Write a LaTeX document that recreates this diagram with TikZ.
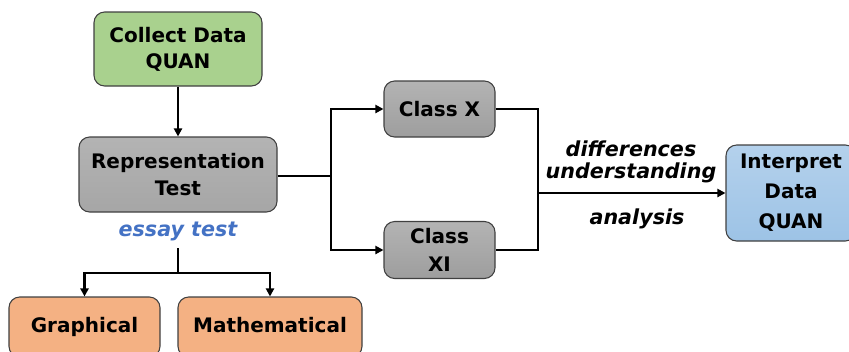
\documentclass[tikz,border=0pt]{standalone}
\usepackage{fontspec}
\setmainfont{DejaVu Sans}
\usetikzlibrary{arrows.meta}
\definecolor{cgreen}{HTML}{A9D18E}
\definecolor{cgray}{HTML}{A6A6A6}
\definecolor{corange}{HTML}{F4B183}
\definecolor{cblue}{HTML}{9DC3E6}
\definecolor{cbluel}{HTML}{B4D1EC}
\definecolor{cborder}{HTML}{404040}
\definecolor{ctext}{HTML}{4472C4}
\begin{document}
\begin{tikzpicture}[x=0.75pt,y=-0.75pt,
  box/.style={draw=cborder,line width=0.8pt,rounded corners=8pt,inner sep=0pt,align=center,
    font=\bfseries\fontsize{15}{19.5}\selectfont},
  conn/.style={line width=1.6pt},
  arr/.style={line width=1.6pt,-{Triangle[length=6pt,width=6pt]}},
  lbl/.style={font=\bfseries\itshape\fontsize{15.5}{18}\selectfont,inner sep=0pt},
  btext/.style={font=\bfseries\fontsize{15}{18}\selectfont,inner sep=0pt,text height=11pt,text depth=3pt}]
\useasboundingbox (0,0) rectangle (849,351);
\clip (0,0) rectangle (849,351);
\node[box,fill=cgreen,minimum width=126pt,minimum height=55.5pt] (collect) at (178,49) {Collect Data\\QUAN};
\node[box,top color=cgray!85,bottom color=cgray,font=\bfseries\fontsize{15}{20.5}\selectfont,minimum width=148.5pt,minimum height=56.25pt] (rep) at (178,174.5) {Representation\\Test};
\node[box,top color=cgray!85,bottom color=cgray!95!black,minimum width=83.25pt,minimum height=42pt] (cx) at (439.5,109) {Class X};
\node[box,top color=cgray!85,bottom color=cgray!95!black,font=\bfseries\fontsize{15}{21}\selectfont,minimum width=83.25pt,minimum height=42.75pt] (cxi) at (439.5,250) {Class\\XI};
\node[box,top color=cbluel,bottom color=cblue,font=\bfseries\fontsize{15}{22.5}\selectfont,minimum width=97.5pt,minimum height=72pt] (interp) at (791,193) {Interpret\\Data\\QUAN};
\node[box,fill=corange,minimum width=113.25pt,minimum height=45pt] (graph) at (84.5,327) {};
\node[box,fill=corange,minimum width=138pt,minimum height=45pt] (math) at (270,327) {};
\node[btext] (gt) at (84.5,327) {Graphical};
\node[btext] (mt) at (270,327) {Mathematical};
\node[lbl,text=ctext,inner sep=2pt] (et) at (178,231) {essay test};
\node[lbl] (l1) at (631,149) {differences};
\node[lbl] (l2) at (631,173) {understanding};
\node[lbl] (l3) at (637,219) {analysis};
\coordinate (j1) at (331,176);
\coordinate (j2) at (538,193);
\coordinate (j3) at (178,273);
\coordinate (j0) at (178,248);
\draw[arr] (collect.south) -- (rep.north);
\draw[conn] (rep.east |- j1) -- (j1);
\draw[arr] (j1) |- (cx.west);
\draw[arr] (j1) |- (cxi.west);
\draw[conn] (cx.east) -| (j2) |- (cxi.east);
\draw[arr] (j2) -- (interp.west);
\draw[conn] (j0) -- (j3);
\draw[arr] (j3) -| (graph.north);
\draw[arr] (j3) -| (math.north);
\end{tikzpicture}
\end{document}
